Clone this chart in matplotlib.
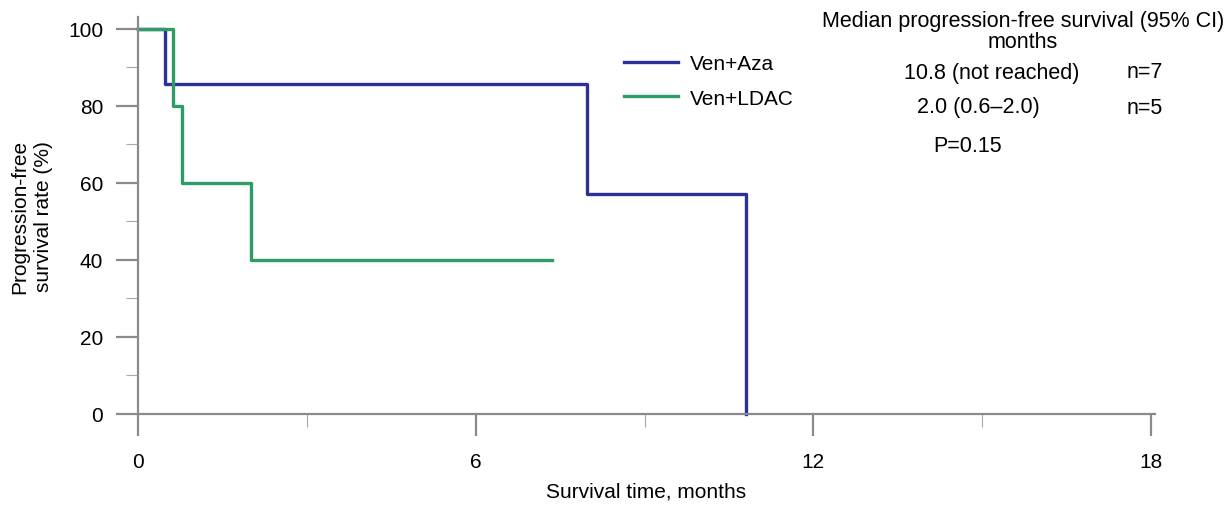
import matplotlib
matplotlib.use('Agg')
import matplotlib.pyplot as plt
from matplotlib.ticker import MultipleLocator

plt.rcParams['font.family'] = ['Liberation Sans', 'DejaVu Sans']

# Kaplan-Meier step data (months, % progression-free)
aza_times = [0, 0.48, 7.98, 10.8]
aza_surv = [100, 85.7, 57.1, 0]
ldac_times = [0, 0.62, 0.78, 2.0, 7.36]
ldac_surv = [100, 80, 60, 40, 40]

groups = ['Ven+Aza', 'Ven+LDAC']
medians = ['10.8 (not reached)', '2.0 (0.6\u20132.0)']
counts = ['n=7', 'n=5']
p_text = 'P=0.15'

BLUE = '#2d2f9b'
GREEN = '#2f9c66'
GREY = '#8a8a8a'
FS = 15

W, H = 1231, 506
fig = plt.figure(figsize=(W / 100, H / 100), dpi=100)
ax = fig.add_axes([138 / W, 1 - 415 / H, (1155 - 138) / W, (415 - 18) / H])

ax.step(aza_times, aza_surv, where='post', color=BLUE, lw=2.4, label=groups[0], clip_on=False)
ax.step(ldac_times, ldac_surv, where='post', color=GREEN, lw=2.4, label=groups[1], clip_on=False)

ax.set_xlim(0, 18.07)
ax.set_ylim(0, 103)
ax.xaxis.set_major_locator(MultipleLocator(6))
ax.xaxis.set_minor_locator(MultipleLocator(3))
ax.yaxis.set_major_locator(MultipleLocator(20))
ax.yaxis.set_minor_locator(MultipleLocator(10))

for s in ['top', 'right']:
    ax.spines[s].set_visible(False)
for s in ['left', 'bottom']:
    ax.spines[s].set_color(GREY)
    ax.spines[s].set_linewidth(1.6)

ax.tick_params(which='major', length=16, width=1.6, color=GREY, labelsize=FS)
ax.tick_params(axis='x', which='major', pad=11)
ax.tick_params(axis='y', which='major', pad=9)
ax.tick_params(which='minor', length=9, width=0.8, color='#a8a8a8')

ax.set_xlabel('Survival time, months', fontsize=FS, labelpad=8)
ax.set_ylabel('Progression-free\nsurvival rate (%)', fontsize=FS, labelpad=11, linespacing=1.3)

ax.legend(loc='upper left', bbox_to_anchor=(624 / W, 1 - 55 / H), bbox_transform=fig.transFigure,
          frameon=False, fontsize=FS, handlelength=2.6, handletextpad=0.55,
          labelspacing=0.75, borderpad=0, borderaxespad=0)

def ftext(x, y, s, **kw):
    fig.text(x / W, 1 - y / H, s, fontsize=15.5, va='center', **kw)

ftext(1023, 22, 'Median progression-free survival (95% CI)', ha='center')
ftext(1023, 43, 'months', ha='center')
ftext(992, 73, medians[0], ha='center')
ftext(978, 108, medians[1], ha='center')
ftext(1145, 73, counts[0], ha='center')
ftext(1145, 108, counts[1], ha='center')
ftext(968, 146, p_text, ha='center')

fig.savefig('out.png', dpi=100)
